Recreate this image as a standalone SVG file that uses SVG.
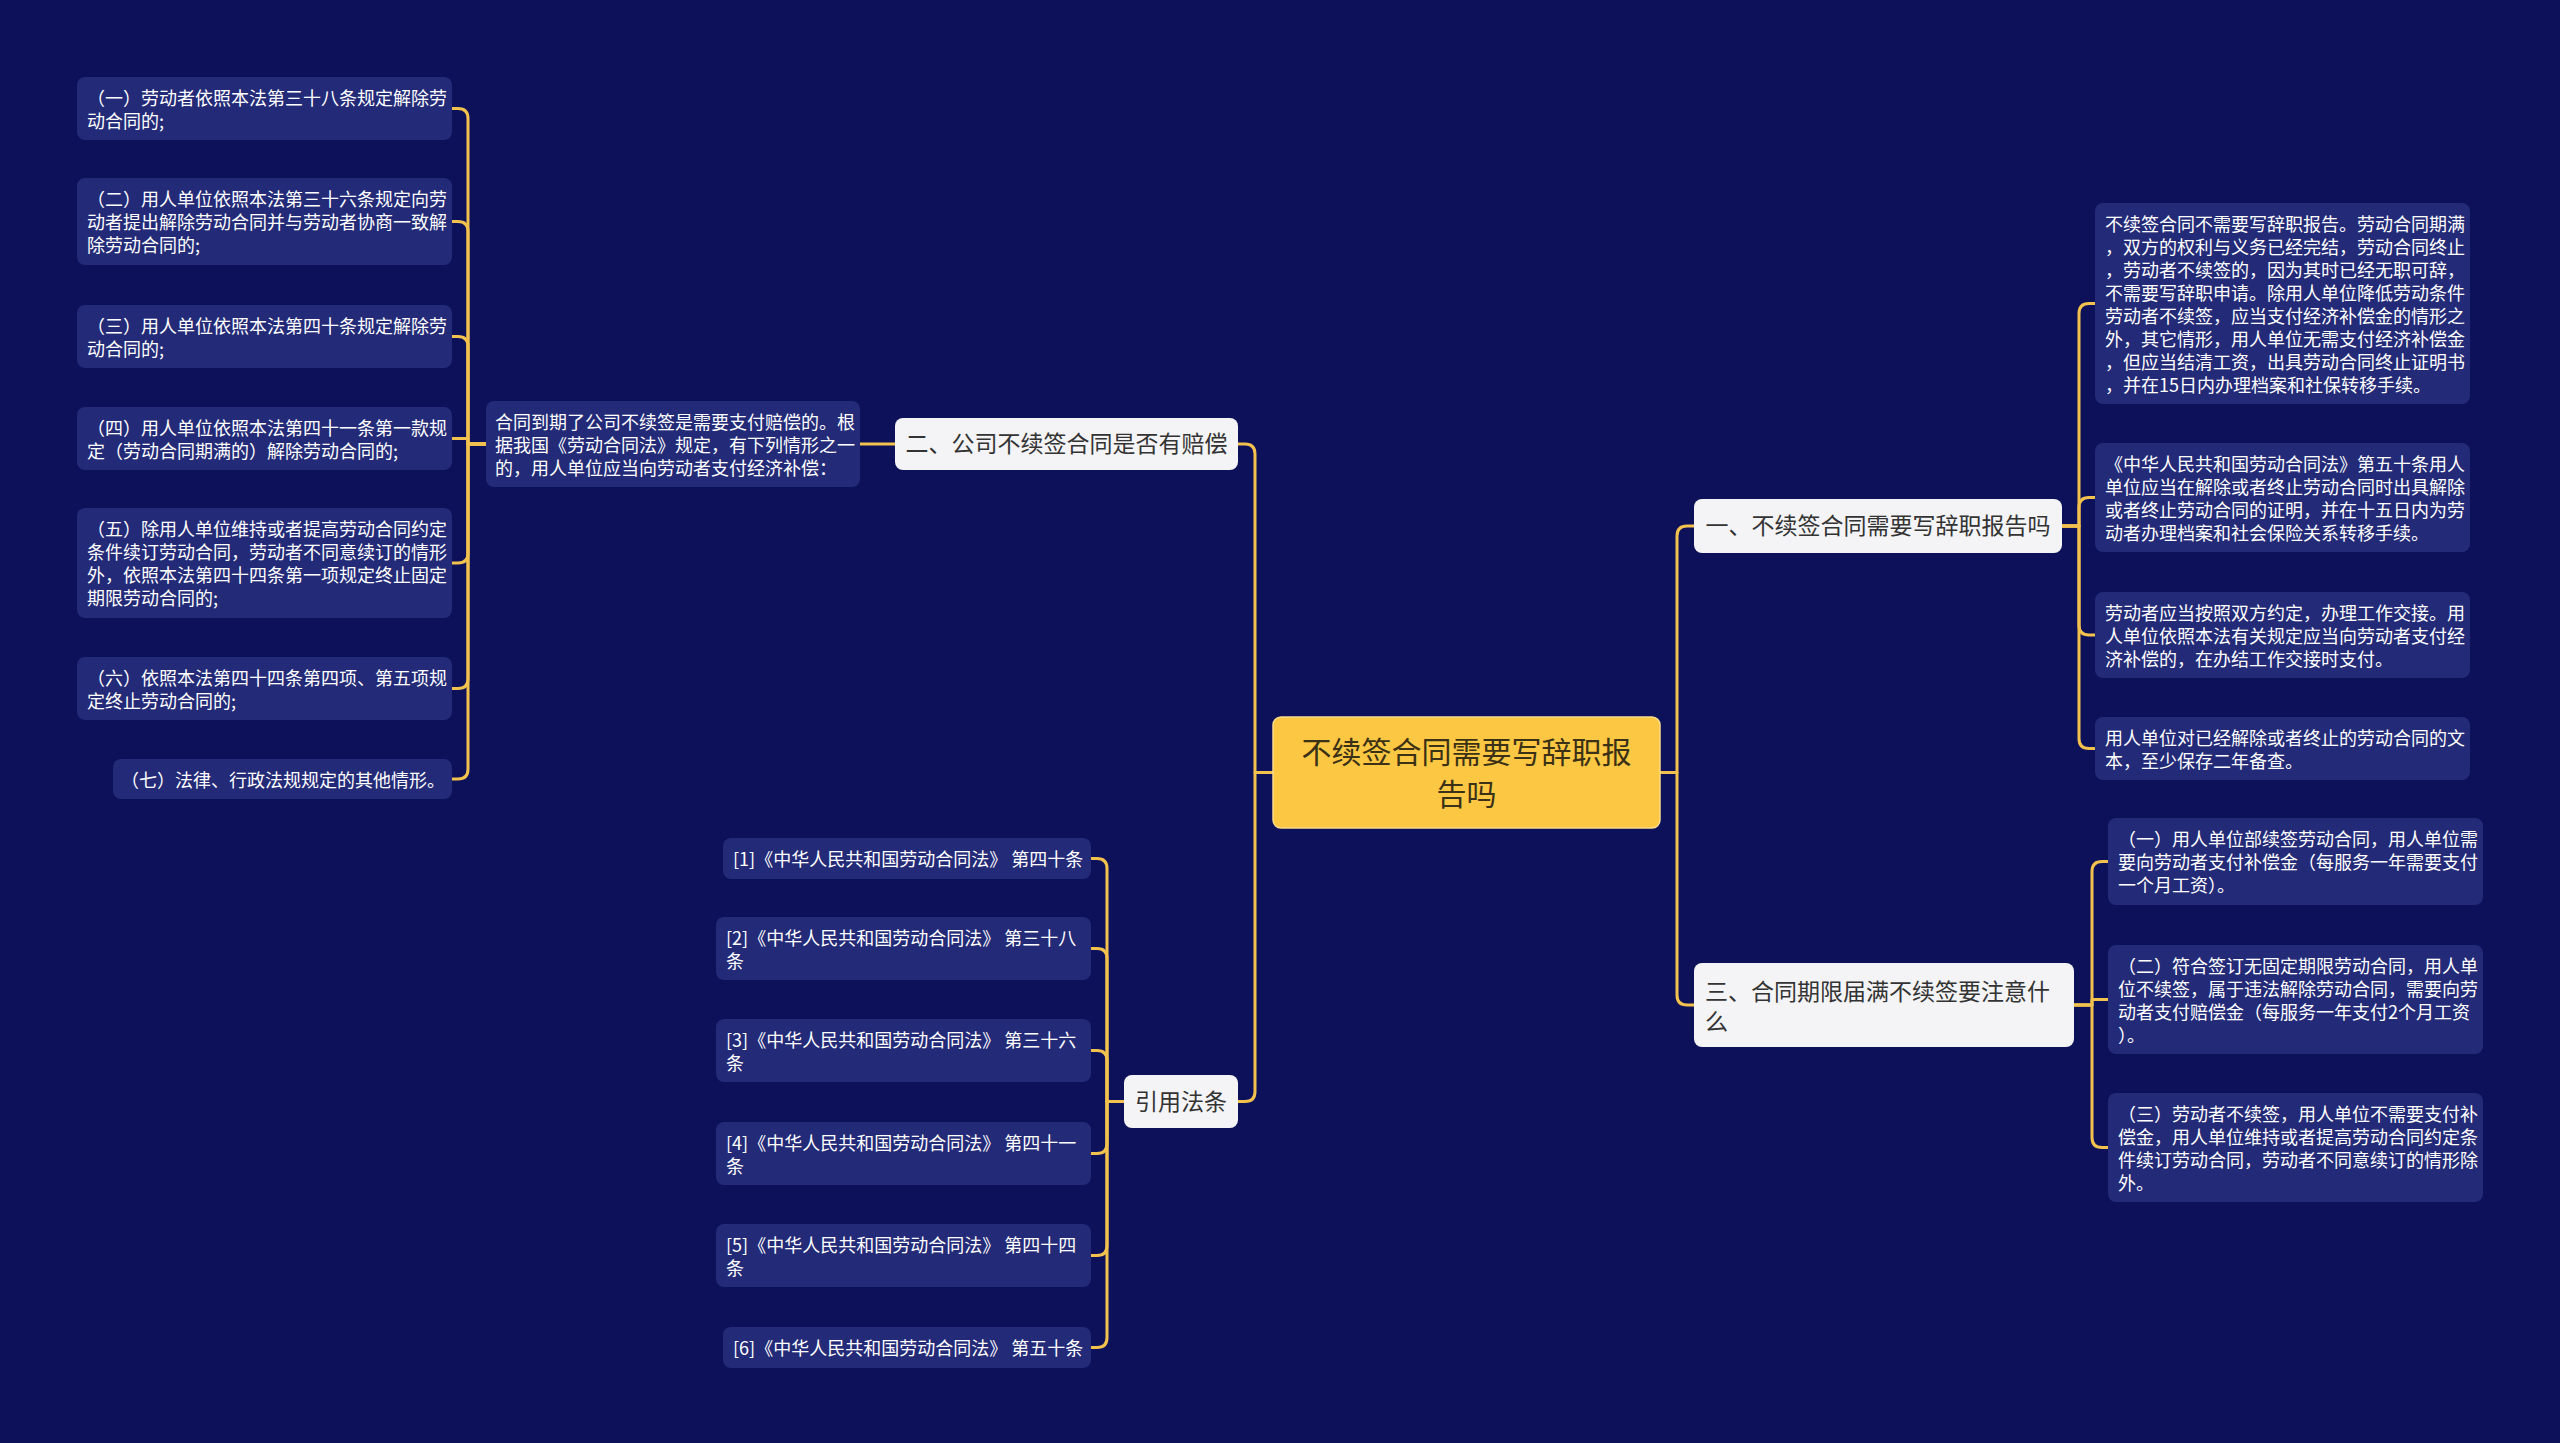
<svg xmlns="http://www.w3.org/2000/svg" width="2560" height="1443" viewBox="0 0 2560 1443">
<style>
text{font-family:"Noto Sans CJK SC","Noto Sans",sans-serif}
.leaf{fill:#232a77}
.lt{fill:#ffffff;font-size:18px}
.br{fill:#f4f4f6}
.bt{fill:#333333;font-size:23px}
.root{fill:#fcc742;stroke:#f9dc8c;stroke-width:1.5}
.rt{fill:#3a3116;font-size:30px}
.conn path{fill:none;stroke:#f2c14e;stroke-width:3;stroke-linejoin:round;stroke-linecap:round}
</style>
<rect x="0" y="0" width="2560" height="1443" fill="#0c1159"/>
<g class="conn" id="connectors">
<path d="M1273,772.5 H1255 V454 Q1255,444 1245,444 H1238"/>
<path d="M1273,772.5 H1255 V1091.5 Q1255,1101.5 1245,1101.5 H1238"/>
<path d="M1660,772.5 H1677 V536 Q1677,526 1687,526 H1694"/>
<path d="M1660,772.5 H1677 V995 Q1677,1005 1687,1005 H1694"/>
<path d="M895,444 H860"/>
<path d="M486,444 H468 V118.5 Q468,108.5 458,108.5 H452"/>
<path d="M486,444 H468 V231.5 Q468,221.5 458,221.5 H452"/>
<path d="M486,444 H468 V346.5 Q468,336.5 458,336.5 H452"/>
<path d="M486,444 H468 V438.5 H452"/>
<path d="M486,444 H468 V553 Q468,563 458,563 H452"/>
<path d="M486,444 H468 V678.5 Q468,688.5 458,688.5 H452"/>
<path d="M486,444 H468 V769 Q468,779 458,779 H452"/>
<path d="M1124,1101.5 H1107 V868.5 Q1107,858.5 1097,858.5 H1091"/>
<path d="M1124,1101.5 H1107 V958.5 Q1107,948.5 1097,948.5 H1091"/>
<path d="M1124,1101.5 H1107 V1060.5 Q1107,1050.5 1097,1050.5 H1091"/>
<path d="M1124,1101.5 H1107 V1143.5 Q1107,1153.5 1097,1153.5 H1091"/>
<path d="M1124,1101.5 H1107 V1245.5 Q1107,1255.5 1097,1255.5 H1091"/>
<path d="M1124,1101.5 H1107 V1337.5 Q1107,1347.5 1097,1347.5 H1091"/>
<path d="M2062,526 H2079 V313.5 Q2079,303.5 2089,303.5 H2095"/>
<path d="M2062,526 H2079 V507.5 Q2079,497.5 2089,497.5 H2095"/>
<path d="M2062,526 H2079 V625 Q2079,635 2089,635 H2095"/>
<path d="M2062,526 H2079 V738.5 Q2079,748.5 2089,748.5 H2095"/>
<path d="M2074,1005 H2092 V871.5 Q2092,861.5 2102,861.5 H2108"/>
<path d="M2074,1005 H2092 V999.5 H2108"/>
<path d="M2074,1005 H2092 V1137.5 Q2092,1147.5 2102,1147.5 H2108"/>
</g>
<g id="root">
<rect class="root" x="1273" y="717" width="387" height="111" rx="8"/>
<text class="rt" x="1466.5" y="763" text-anchor="middle">不续签合同需要写辞职报</text>
<text class="rt" x="1466.5" y="805" text-anchor="middle">告吗</text>
</g>
<g id="n-er">
<rect class="br" x="895" y="418" width="343" height="52" rx="8"/>
<text class="bt" x="1066.5" y="452" text-anchor="middle">二、公司不续签合同是否有赔偿</text>
</g>
<g id="n-yinyong">
<rect class="br" x="1124" y="1075" width="114" height="53" rx="8"/>
<text class="bt" x="1181" y="1110" text-anchor="middle">引用法条</text>
</g>
<g id="n-yi">
<rect class="br" x="1694" y="499" width="368" height="54" rx="8"/>
<text class="bt" x="1878" y="534" text-anchor="middle">一、不续签合同需要写辞职报告吗</text>
</g>
<g id="n-san">
<rect class="br" x="1694" y="963" width="380" height="84" rx="8"/>
<text class="bt" x="1705" y="1000">三、合同期限届满不续签要注意什</text>
<text class="bt" x="1705" y="1030">么</text>
</g>
<g id="n-p">
<rect class="leaf" x="486" y="401" width="374" height="86" rx="8"/>
<text class="lt" x="495" y="429">合同到期了公司不续签是需要支付赔偿的。根</text>
<text class="lt" x="495" y="452">据我国《劳动合同法》规定，有下列情形之一</text>
<text class="lt" x="495" y="475">的，用人单位应当向劳动者支付经济补偿：</text>
</g>
<g id="l1">
<rect class="leaf" x="77" y="77" width="375" height="63" rx="8"/>
<text class="lt" x="87" y="104.5">（一）劳动者依照本法第三十八条规定解除劳</text>
<text class="lt" x="87" y="127.5">动合同的;</text>
</g>
<g id="l2">
<rect class="leaf" x="77" y="178" width="375" height="87" rx="8"/>
<text class="lt" x="87" y="205.5">（二）用人单位依照本法第三十六条规定向劳</text>
<text class="lt" x="87" y="228.5">动者提出解除劳动合同并与劳动者协商一致解</text>
<text class="lt" x="87" y="251.5">除劳动合同的;</text>
</g>
<g id="l3">
<rect class="leaf" x="77" y="305" width="375" height="63" rx="8"/>
<text class="lt" x="87" y="332.5">（三）用人单位依照本法第四十条规定解除劳</text>
<text class="lt" x="87" y="355.5">动合同的;</text>
</g>
<g id="l4">
<rect class="leaf" x="77" y="407" width="375" height="63" rx="8"/>
<text class="lt" x="87" y="434.5">（四）用人单位依照本法第四十一条第一款规</text>
<text class="lt" x="87" y="457.5">定（劳动合同期满的）解除劳动合同的;</text>
</g>
<g id="l5">
<rect class="leaf" x="77" y="508" width="375" height="110" rx="8"/>
<text class="lt" x="87" y="535.5">（五）除用人单位维持或者提高劳动合同约定</text>
<text class="lt" x="87" y="558.5">条件续订劳动合同，劳动者不同意续订的情形</text>
<text class="lt" x="87" y="581.5">外，依照本法第四十四条第一项规定终止固定</text>
<text class="lt" x="87" y="604.5">期限劳动合同的;</text>
</g>
<g id="l6">
<rect class="leaf" x="77" y="657" width="375" height="63" rx="8"/>
<text class="lt" x="87" y="684.5">（六）依照本法第四十四条第四项、第五项规</text>
<text class="lt" x="87" y="707.5">定终止劳动合同的;</text>
</g>
<g id="l7">
<rect class="leaf" x="113" y="759" width="339" height="40" rx="8"/>
<text class="lt" x="121" y="786.5">（七）法律、行政法规规定的其他情形。</text>
</g>
<g id="r1">
<rect class="leaf" x="723" y="838" width="368" height="41" rx="8"/>
<text class="lt" x="733" y="865.5">[1]《中华人民共和国劳动合同法》 第四十条</text>
</g>
<g id="r2">
<rect class="leaf" x="716" y="917" width="375" height="63" rx="8"/>
<text class="lt" x="726" y="944.5">[2]《中华人民共和国劳动合同法》 第三十八</text>
<text class="lt" x="726" y="967.5">条</text>
</g>
<g id="r3">
<rect class="leaf" x="716" y="1019" width="375" height="63" rx="8"/>
<text class="lt" x="726" y="1046.5">[3]《中华人民共和国劳动合同法》 第三十六</text>
<text class="lt" x="726" y="1069.5">条</text>
</g>
<g id="r4">
<rect class="leaf" x="716" y="1122" width="375" height="63" rx="8"/>
<text class="lt" x="726" y="1149.5">[4]《中华人民共和国劳动合同法》 第四十一</text>
<text class="lt" x="726" y="1172.5">条</text>
</g>
<g id="r5">
<rect class="leaf" x="716" y="1224" width="375" height="63" rx="8"/>
<text class="lt" x="726" y="1251.5">[5]《中华人民共和国劳动合同法》 第四十四</text>
<text class="lt" x="726" y="1274.5">条</text>
</g>
<g id="r6">
<rect class="leaf" x="723" y="1327" width="368" height="41" rx="8"/>
<text class="lt" x="733" y="1354.5">[6]《中华人民共和国劳动合同法》 第五十条</text>
</g>
<g id="ra">
<rect class="leaf" x="2095" y="203" width="375" height="201" rx="8"/>
<text class="lt" x="2105" y="230.5">不续签合同不需要写辞职报告。劳动合同期满</text>
<text class="lt" x="2105" y="253.5">，双方的权利与义务已经完结，劳动合同终止</text>
<text class="lt" x="2105" y="276.5">，劳动者不续签的，因为其时已经无职可辞，</text>
<text class="lt" x="2105" y="299.5">不需要写辞职申请。除用人单位降低劳动条件</text>
<text class="lt" x="2105" y="322.5">劳动者不续签，应当支付经济补偿金的情形之</text>
<text class="lt" x="2105" y="345.5">外，其它情形，用人单位无需支付经济补偿金</text>
<text class="lt" x="2105" y="368.5">，但应当结清工资，出具劳动合同终止证明书</text>
<text class="lt" x="2105" y="391.5">，并在15日内办理档案和社保转移手续。</text>
</g>
<g id="rb">
<rect class="leaf" x="2095" y="443" width="375" height="109" rx="8"/>
<text class="lt" x="2105" y="470.5">《中华人民共和国劳动合同法》第五十条用人</text>
<text class="lt" x="2105" y="493.5">单位应当在解除或者终止劳动合同时出具解除</text>
<text class="lt" x="2105" y="516.5">或者终止劳动合同的证明，并在十五日内为劳</text>
<text class="lt" x="2105" y="539.5">动者办理档案和社会保险关系转移手续。</text>
</g>
<g id="rc">
<rect class="leaf" x="2095" y="592" width="375" height="86" rx="8"/>
<text class="lt" x="2105" y="619.5">劳动者应当按照双方约定，办理工作交接。用</text>
<text class="lt" x="2105" y="642.5">人单位依照本法有关规定应当向劳动者支付经</text>
<text class="lt" x="2105" y="665.5">济补偿的，在办结工作交接时支付。</text>
</g>
<g id="rd">
<rect class="leaf" x="2095" y="717" width="375" height="63" rx="8"/>
<text class="lt" x="2105" y="744.5">用人单位对已经解除或者终止的劳动合同的文</text>
<text class="lt" x="2105" y="767.5">本，至少保存二年备查。</text>
</g>
<g id="re">
<rect class="leaf" x="2108" y="818" width="375" height="87" rx="8"/>
<text class="lt" x="2118" y="845.5">（一）用人单位部续签劳动合同，用人单位需</text>
<text class="lt" x="2118" y="868.5">要向劳动者支付补偿金（每服务一年需要支付</text>
<text class="lt" x="2118" y="891.5">一个月工资）。</text>
</g>
<g id="rf">
<rect class="leaf" x="2108" y="945" width="375" height="109" rx="8"/>
<text class="lt" x="2118" y="972.5">（二）符合签订无固定期限劳动合同，用人单</text>
<text class="lt" x="2118" y="995.5">位不续签，属于违法解除劳动合同，需要向劳</text>
<text class="lt" x="2118" y="1018.5">动者支付赔偿金（每服务一年支付2个月工资</text>
<text class="lt" x="2118" y="1041.5">）。</text>
</g>
<g id="rg">
<rect class="leaf" x="2108" y="1093" width="375" height="109" rx="8"/>
<text class="lt" x="2118" y="1120.5">（三）劳动者不续签，用人单位不需要支付补</text>
<text class="lt" x="2118" y="1143.5">偿金，用人单位维持或者提高劳动合同约定条</text>
<text class="lt" x="2118" y="1166.5">件续订劳动合同，劳动者不同意续订的情形除</text>
<text class="lt" x="2118" y="1189.5">外。</text>
</g>
</svg>
